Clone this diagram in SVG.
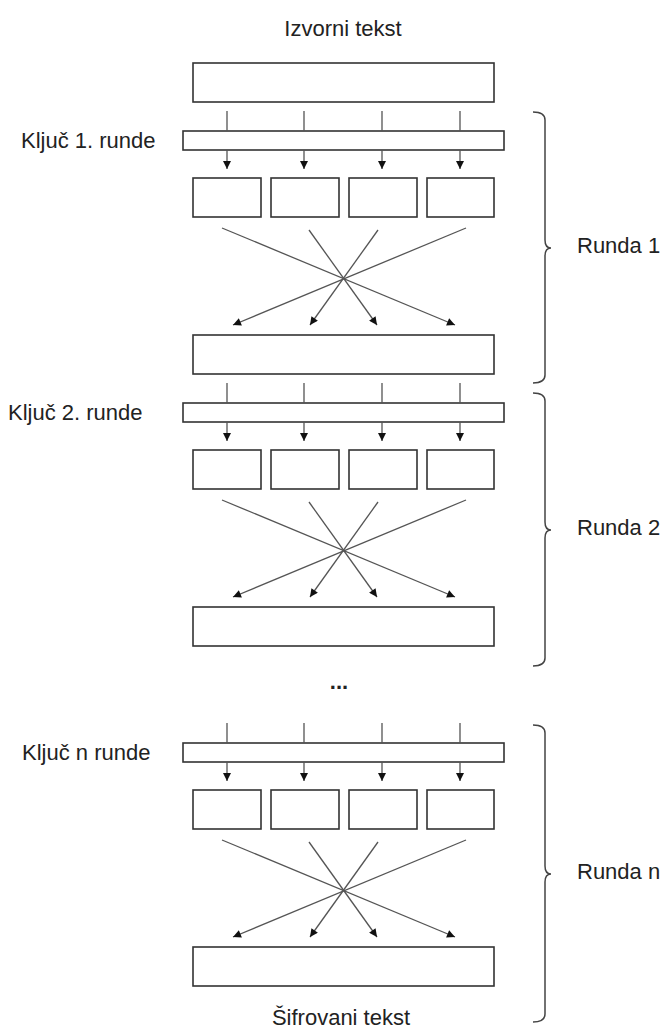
<svg xmlns="http://www.w3.org/2000/svg" width="667" height="1035" viewBox="0 0 667 1035">
<style>
.box{fill:#fff;stroke:#333;stroke-width:1.6}
.ln{fill:none;stroke:#555;stroke-width:1.3}
.br{fill:none;stroke:#444;stroke-width:1.5}
.t{font-family:"Liberation Sans",Arial,sans-serif;font-size:22px;fill:#222}
</style>
<defs>
<marker id="ah" viewBox="0 0 10 10" refX="10" refY="5" markerWidth="9" markerHeight="8" markerUnits="userSpaceOnUse" orient="auto">
<path d="M0,0 L10,5 L0,10 z" fill="#111"/>
</marker>
</defs>
<rect width="667" height="1035" fill="#fff"/>

<g id="labels">
<text class="t" x="343" y="36" text-anchor="middle">Izvorni tekst</text>
<text class="t" x="341" y="1025" text-anchor="middle">Šifrovani tekst</text>
<text class="t" x="339" y="689" text-anchor="middle" font-weight="bold">...</text>
</g>

<g id="plaintext"><rect class="box" x="193" y="63" width="301" height="39"/></g>

<!-- Round 1 -->
<g id="key1"><rect class="box" x="183" y="131" width="321" height="19"/><text class="t" x="21" y="148">Ključ 1. runde</text></g>
<g id="r1s1"><rect class="box" x="193" y="178" width="68" height="39"/></g>
<g id="r1s2"><rect class="box" x="271" y="178" width="68" height="39"/></g>
<g id="r1s3"><rect class="box" x="349" y="178" width="68" height="39"/></g>
<g id="r1s4"><rect class="box" x="427" y="178" width="67" height="39"/></g>
<g id="r1out"><rect class="box" x="193" y="335" width="301" height="39"/></g>
<g id="brace1"><path class="br" d="M533,112 Q545,112 545,120 L545,240 Q545,248 551,248 Q545,248 545,256 L545,375 Q545,383 533,383"/><text class="t" x="577" y="253">Runda 1</text></g>

<!-- Round 2 -->
<g id="key2"><rect class="box" x="183" y="403" width="321" height="19"/><text class="t" x="8" y="420">Ključ 2. runde</text></g>
<g id="r2s1"><rect class="box" x="193" y="450" width="68" height="39"/></g>
<g id="r2s2"><rect class="box" x="271" y="450" width="68" height="39"/></g>
<g id="r2s3"><rect class="box" x="349" y="450" width="68" height="39"/></g>
<g id="r2s4"><rect class="box" x="427" y="450" width="67" height="39"/></g>
<g id="r2out"><rect class="box" x="193" y="607" width="301" height="39"/></g>
<g id="brace2"><path class="br" d="M533,393 Q545,393 545,401 L545,522 Q545,530 551,530 Q545,530 545,538 L545,658 Q545,666 533,666"/><text class="t" x="577" y="535">Runda 2</text></g>

<!-- Round n -->
<g id="keyn"><rect class="box" x="183" y="743" width="321" height="19"/><text class="t" x="22" y="760">Ključ n runde</text></g>
<g id="rns1"><rect class="box" x="193" y="790" width="68" height="39"/></g>
<g id="rns2"><rect class="box" x="271" y="790" width="68" height="39"/></g>
<g id="rns3"><rect class="box" x="349" y="790" width="68" height="39"/></g>
<g id="rns4"><rect class="box" x="427" y="790" width="67" height="39"/></g>
<g id="rnout"><rect class="box" x="193" y="947" width="301" height="39"/></g>
<g id="bracen"><path class="br" d="M533,725 Q545,725 545,733 L545,866 Q545,874 551,874 Q545,874 545,882 L545,1014 Q545,1022 533,1022"/><text class="t" x="577" y="879">Runda n</text></g>

<g id="connectors">
<!-- round 1 -->
<path class="ln" d="M227,111V131M304,111V131M382,111V131M460,111V131"/>
<line class="ln" x1="227" y1="150" x2="227" y2="169" marker-end="url(#ah)"/>
<line class="ln" x1="304" y1="150" x2="304" y2="169" marker-end="url(#ah)"/>
<line class="ln" x1="382" y1="150" x2="382" y2="169" marker-end="url(#ah)"/>
<line class="ln" x1="460" y1="150" x2="460" y2="169" marker-end="url(#ah)"/>
<line class="ln" x1="222" y1="228" x2="455" y2="325" marker-end="url(#ah)"/>
<line class="ln" x1="309" y1="230" x2="377" y2="325" marker-end="url(#ah)"/>
<line class="ln" x1="378" y1="230" x2="310" y2="325" marker-end="url(#ah)"/>
<line class="ln" x1="466" y1="228" x2="233" y2="325" marker-end="url(#ah)"/>
<!-- round 2 -->
<path class="ln" d="M227,383V403M304,383V403M382,383V403M460,383V403"/>
<line class="ln" x1="227" y1="422" x2="227" y2="441" marker-end="url(#ah)"/>
<line class="ln" x1="304" y1="422" x2="304" y2="441" marker-end="url(#ah)"/>
<line class="ln" x1="382" y1="422" x2="382" y2="441" marker-end="url(#ah)"/>
<line class="ln" x1="460" y1="422" x2="460" y2="441" marker-end="url(#ah)"/>
<line class="ln" x1="222" y1="500" x2="455" y2="597" marker-end="url(#ah)"/>
<line class="ln" x1="309" y1="502" x2="377" y2="597" marker-end="url(#ah)"/>
<line class="ln" x1="378" y1="502" x2="310" y2="597" marker-end="url(#ah)"/>
<line class="ln" x1="466" y1="500" x2="233" y2="597" marker-end="url(#ah)"/>
<!-- round n -->
<path class="ln" d="M227,723V743M304,723V743M382,723V743M460,723V743"/>
<line class="ln" x1="227" y1="762" x2="227" y2="781" marker-end="url(#ah)"/>
<line class="ln" x1="304" y1="762" x2="304" y2="781" marker-end="url(#ah)"/>
<line class="ln" x1="382" y1="762" x2="382" y2="781" marker-end="url(#ah)"/>
<line class="ln" x1="460" y1="762" x2="460" y2="781" marker-end="url(#ah)"/>
<line class="ln" x1="222" y1="840" x2="455" y2="937" marker-end="url(#ah)"/>
<line class="ln" x1="309" y1="842" x2="377" y2="937" marker-end="url(#ah)"/>
<line class="ln" x1="378" y1="842" x2="310" y2="937" marker-end="url(#ah)"/>
<line class="ln" x1="466" y1="840" x2="233" y2="937" marker-end="url(#ah)"/>
</g>
</svg>
